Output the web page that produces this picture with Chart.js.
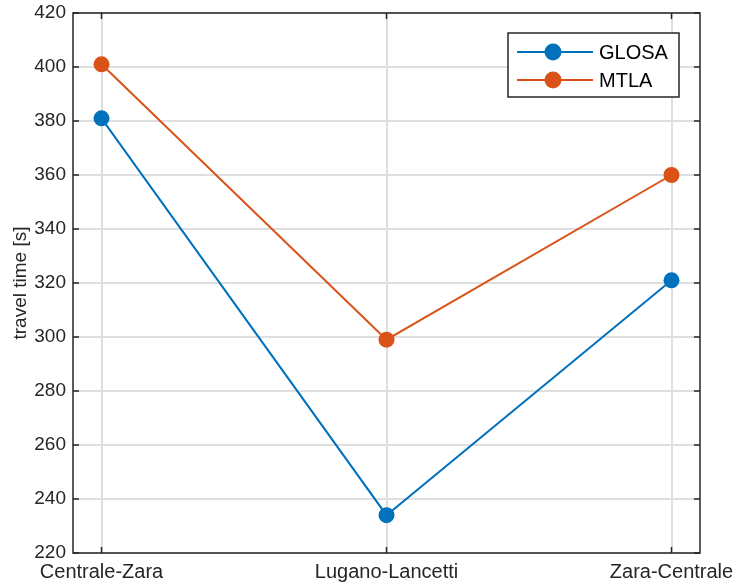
<!DOCTYPE html>
<html>
<head>
<meta charset="utf-8">
<script src="https://cdn.jsdelivr.net/npm/chart.js@4.4.0/dist/chart.umd.min.js"></script>
<style>
    html, body { margin: 0; padding: 0; background: #fff; }
    #wrap { width: 736px; height: 584px; }
</style>
</head>
<body>
<div id="wrap"><canvas id="chart-lines" width="736" height="584"></canvas></div>
<script>
var routes = ['Centrale-Zara', 'Lugano-Lancetti', 'Zara-Centrale'];
var glosa = [381, 234, 321];
var mtla = [401, 299, 360];
var yTicks = [220, 240, 260, 280, 300, 320, 340, 360, 380, 400, 420];

var FONT = 'Liberation Sans, Arial, Helvetica, sans-serif';
var INK = '#262626';

function toPoints(values) {
    var pts = [];
    for (var i in values) {
        pts.push({ x: Number(i) + 1, y: values[i] });
    }
    return pts;
}

// box, inward ticks and the legend, MATLAB style
var matlabAxes = {
    id: 'matlabAxes',
    beforeDatasetsDraw: function (chart) {
        var ctx = chart.ctx;
        var a = chart.chartArea;
        var xs = chart.scales.x, ys = chart.scales.y;
        var len = 6;
        ctx.save();
        ctx.strokeStyle = INK;
        ctx.lineWidth = 1.5;
        ctx.strokeRect(a.left, a.top, a.right - a.left, a.bottom - a.top);
        ctx.beginPath();
        xs.ticks.forEach(function (t) {
            var px = xs.getPixelForValue(t.value);
            ctx.moveTo(px, a.bottom); ctx.lineTo(px, a.bottom - len);
            ctx.moveTo(px, a.top); ctx.lineTo(px, a.top + len);
        });
        ys.ticks.forEach(function (t) {
            var py = ys.getPixelForValue(t.value);
            ctx.moveTo(a.left, py); ctx.lineTo(a.left + len, py);
            ctx.moveTo(a.right, py); ctx.lineTo(a.right - len, py);
        });
        ctx.stroke();
        ctx.restore();
    },
    afterDraw: function (chart) {
        var ctx = chart.ctx;
        var a = chart.chartArea;
        var bw = 171, bh = 64;
        var bx = a.right - 21 - bw, by = a.top + 20;
        ctx.save();
        ctx.fillStyle = '#fff';
        ctx.fillRect(bx, by, bw, bh);
        ctx.strokeStyle = INK;
        ctx.lineWidth = 1.5;
        ctx.strokeRect(bx, by, bw, bh);
        chart.data.datasets.forEach(function (ds, i) {
            var y = by + 19 + i * 28;
            ctx.strokeStyle = ds.borderColor;
            ctx.lineWidth = 2;
            ctx.beginPath();
            ctx.moveTo(bx + 9, y);
            ctx.lineTo(bx + 85, y);
            ctx.stroke();
            ctx.fillStyle = ds.borderColor;
            ctx.beginPath();
            ctx.arc(bx + 45, y, 8.5, 0, Math.PI * 2);
            ctx.fill();
            ctx.fillStyle = '#000';
            ctx.font = '20px ' + FONT;
            ctx.textBaseline = 'middle';
            ctx.fillText(ds.label, bx + 91, y + 1);
        });
        ctx.restore();
    }
};

var chartdata = {
    datasets: [
        {
            label: 'GLOSA',
            borderColor: '#0072BD',
            backgroundColor: '#0072BD',
            borderWidth: 2,
            pointRadius: 8,
            pointBackgroundColor: '#0072BD',
            pointBorderWidth: 0,
            data: toPoints(glosa)
        },
        {
            label: 'MTLA',
            borderColor: '#D95319',
            backgroundColor: '#D95319',
            borderWidth: 2,
            pointRadius: 8,
            pointBackgroundColor: '#D95319',
            pointBorderWidth: 0,
            data: toPoints(mtla)
        }
    ]
};

var ctx = document.getElementById('chart-lines');

var lineGraph = new Chart(ctx, {
    type: 'line',
    data: chartdata,
    plugins: [matlabAxes],
    options: {
        responsive: false,
        animation: false,
        layout: { padding: { top: 13, right: 36, left: 0, bottom: 0 } },
        plugins: {
            legend: { display: false },
            tooltip: { enabled: false }
        },
        scales: {
            x: {
                type: 'linear',
                min: 0.9,
                max: 3.1,
                afterBuildTicks: function (scale) {
                    scale.ticks = routes.map(function (r, i) { return { value: i + 1 }; });
                },
                afterFit: function (scale) {
                    scale.height = 31;
                    scale.paddingLeft = 0;
                    scale.paddingRight = 0;
                },
                grid: { color: '#dfdfdf', lineWidth: 2, drawTicks: false },
                border: { display: false },
                ticks: {
                    autoSkip: false,
                    maxRotation: 0,
                    padding: 7,
                    color: INK,
                    font: { family: FONT, size: 20 },
                    callback: function (v) { return routes[v - 1]; }
                }
            },
            y: {
                min: 220,
                max: 420,
                afterBuildTicks: function (scale) {
                    scale.ticks = yTicks.map(function (v) { return { value: v }; });
                },
                afterFit: function (scale) {
                    scale.width = 73;
                    scale.paddingTop = 0;
                    scale.paddingBottom = 0;
                },
                grid: { color: '#dfdfdf', lineWidth: 2, drawTicks: false },
                border: { display: false },
                ticks: {
                    padding: 7,
                    color: INK,
                    font: { family: FONT, size: 19 }
                },
                title: {
                    display: true,
                    text: 'travel time [s]',
                    color: INK,
                    font: { family: FONT, size: 19 },
                    padding: { top: 9, bottom: 0 }
                }
            }
        }
    }
});
</script>
</body>
</html>
